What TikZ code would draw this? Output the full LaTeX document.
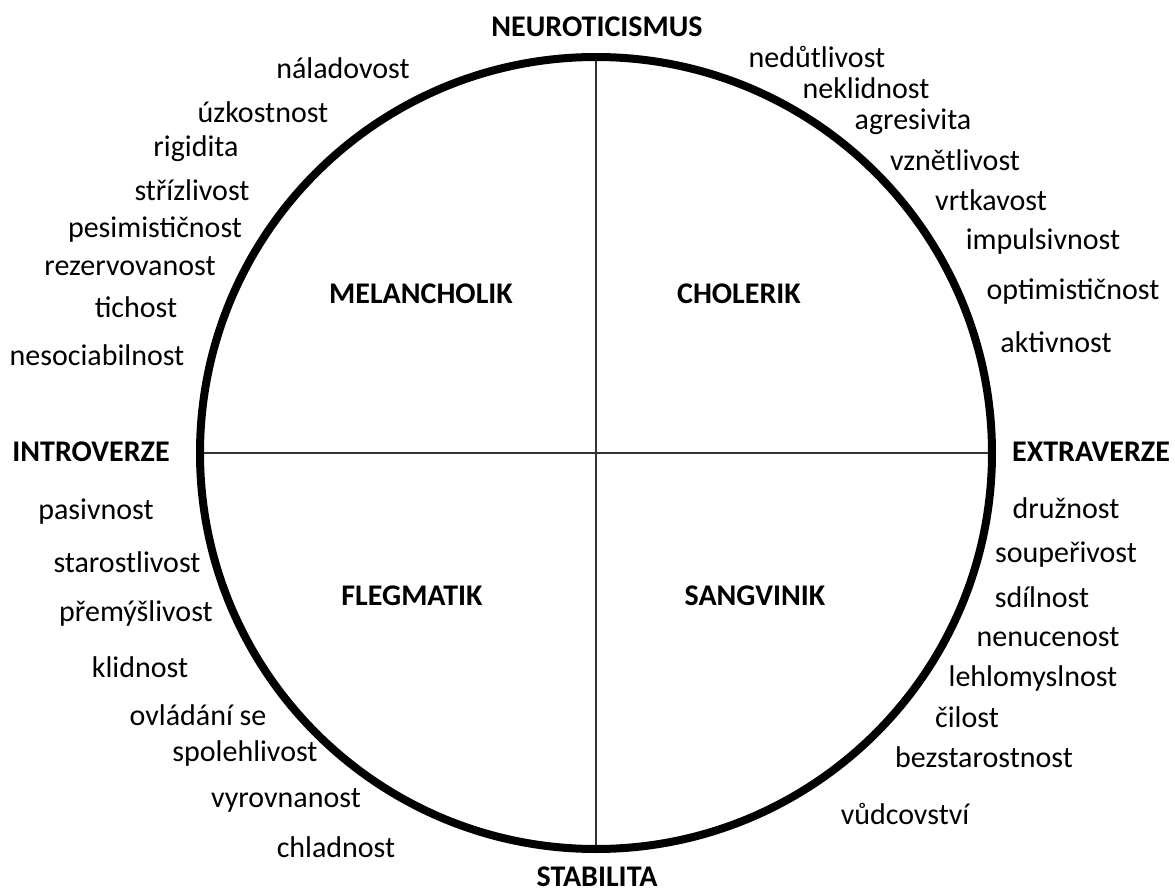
\documentclass[tikz,border=0pt]{standalone}
\usepackage{fontspec}
\setmainfont{Carlito}
\tikzset{p/.style={font=\fontsize{15}{18}\selectfont,inner sep=0pt},
         t/.style={font=\bfseries\fontsize{15}{18}\selectfont,inner sep=0pt}}
\usetikzlibrary{positioning,calc}

\begin{document}
\begin{tikzpicture}[x=0.5pt,y=-0.5pt]
 	   		\def\rk{396}
 	   		\useasboundingbox (0,0) rectangle (1175,894);
 	   		\path (596,453) coordinate (S)
 	   		       ($ (S)+(0,-\rk) $) coordinate (N)
 	   		       ($ (S)+(0,\rk) $) coordinate (D)
 	   		       ($ (S)+(-\rk,0) $) coordinate (L)
 	   		       ($ (S)+(\rk,0) $) coordinate (P);
 	   		    \draw[line width=0.8pt,black!80] (L)--(P) (N)--(D);
 	   		    \draw[line width=4pt] (S) circle[radius=198pt];
 	   		% osy
 	   		\node[t] (neuro) at (597,27) {NEUROTICISMUS};
 	   		\node[t] (stab) at (597,877) {STABILITA};
 	   		\node[t] (intro) at (91,452) {INTROVERZE};
 	   		\node[t] (extra) at (1091,452) {EXTRAVERZE};
 	   		% typy
 	   		\node[t] (mel) at (421,294) {MELANCHOLIK};
 	   		\node[t] (chol) at (739,294) {CHOLERIK};
 	   		\node[t] (fleg) at (412,596) {FLEGMATIK};
 	   		\node[t] (sang) at (755,596) {SANGVINIK};
 	   		% melancholik
 	   		\node[p] (nalad) at (343,68) {náladovost};
 	   		\node[p] (uzkost) at (263,112) {úzkostnost};
 	   		\node[p] (rigid) at (196,149) {rigidita};
 	   		\node[p] (strizl) at (192,190) {střízlivost};
 	   		\node[p] (pesim) at (155,230) {pesimističnost};
 	   		\node[p] (rezerv) at (130,266) {rezervovanost};
 	   		\node[p] (tich) at (136,307) {tichost};
 	   		\node[p] (nesoc) at (97,355) {nesociabilnost};
 	   		% cholerik
 	   		\node[p] (nedut) at (817,57) {nedůtlivost};
 	   		\node[p] (neklid) at (866,88) {neklidnost};
 	   		\node[p] (agres) at (913,122) {agresivita};
 	   		\node[p] (vznetl) at (955,160) {vznětlivost};
 	   		\node[p] (vrtk) at (991,200) {vrtkavost};
 	   		\node[p] (impuls) at (1043,242) {impulsivnost};
 	   		\node[p] (optim) at (1073,292) {optimističnost};
 	   		\node[p] (aktiv) at (1056,342) {aktivnost};
 	   		% flegmatik
 	   		\node[p] (pasiv) at (96,512) {pasivnost};
 	   		\node[p] (starost) at (127,562) {starostlivost};
 	   		\node[p] (premysl) at (136,613) {přemýšlivost};
 	   		\node[p] (klid) at (140,667) {klidnost};
 	   		\node[p] (ovlad) at (198,715) {ovládání se};
 	   		\node[p] (spoleh) at (245,753) {spolehlivost};
 	   		\node[p] (vyrovn) at (286,800) {vyrovnanost};
 	   		\node[p] (chlad) at (336,847) {chladnost};
 	   		% sangvinik
 	   		\node[p] (druz) at (1066,508) {družnost};
 	   		\node[p] (souper) at (1066,555) {soupeřivost};
 	   		\node[p] (sdil) at (1042,597) {sdílnost};
 	   		\node[p] (nenuc) at (1048,637) {nenucenost};
 	   		\node[p] (lehlom) at (1033,678) {lehlomyslnost};
 	   		\node[p] (cil) at (967,717) {čilost};
 	   		\node[p] (bezst) at (984,757) {bezstarostnost};
 	   		\node[p] (vudc) at (905,814) {vůdcovství};
 	   		\end{tikzpicture}
\end{document}
